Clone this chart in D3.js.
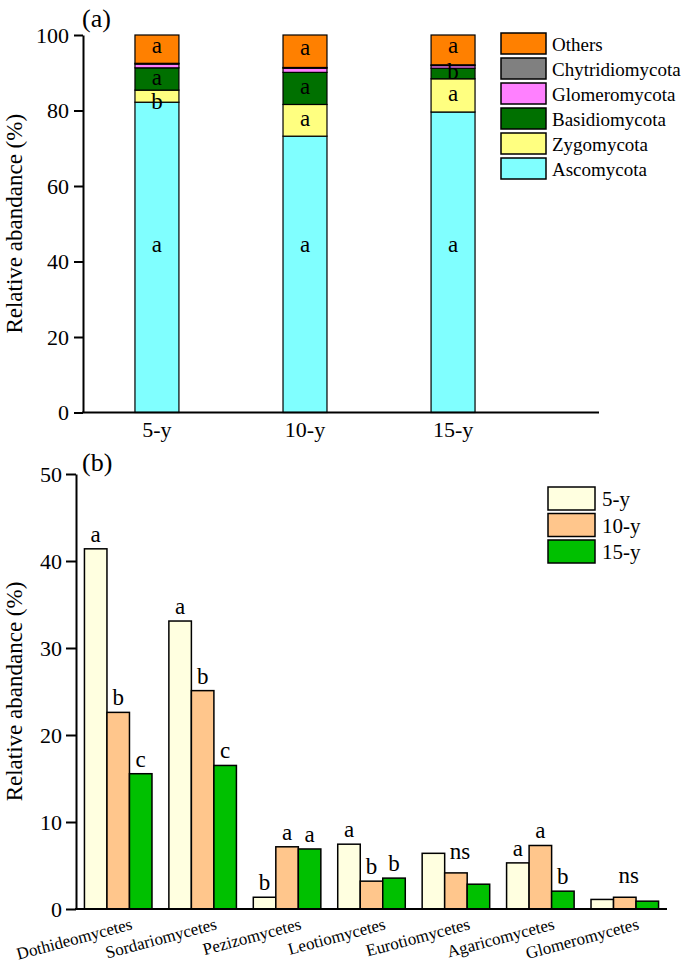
<!DOCTYPE html>
<html>
<head>
<meta charset="utf-8">
<script src="https://cdn.jsdelivr.net/npm/d3@7"></script>
<style>
  body { margin: 0; background: #fff; }
</style>
</head>
<body>
<svg id="chart" width="685" height="967"></svg>
<script>
// ---- panel (a) data: phylum relative abundance (%) ----
const periods = ["5-y", "10-y", "15-y"];
const phyla = ["Ascomycota", "Zygomycota", "Basidiomycota", "Glomeromycota", "Chytridiomycota", "Others"];
const ascomycota = [82.2, 73.2, 79.6];
const zygomycota = [3.2, 8.4, 8.8];
const basidiomycota = [5.9, 8.5, 2.8];
const glomeromycota = [1.0, 1.1, 0.7];
const chytridiomycota = [0.2, 0.2, 0.2];
const others = [7.5, 8.6, 7.9];
const ascoLetters = ["a", "a", "a"];
const zygoLetters = ["b", "a", "a"];
const basidioLetters = ["a", "a", "b"];
const othersLetters = ["a", "a", "a"];
const phylumTicks = [0, 20, 40, 60, 80, 100];

// ---- panel (b) data: class relative abundance (%) ----
const classes = ["Dothideomycetes", "Sordariomycetes", "Pezizomycetes", "Leotiomycetes",
  "Eurotiomycetes", "Agaricomycetes", "Glomeromycetes"];
const years = ["5-y", "10-y", "15-y"];
const class5y = [41.4, 33.1, 1.35, 7.45, 6.4, 5.3, 1.1];
const class10y = [22.6, 25.1, 7.15, 3.2, 4.15, 7.3, 1.35];
const class15y = [15.55, 16.5, 6.9, 3.55, 2.85, 2.05, 0.9];
const letters5y = ["a", "a", "b", "a", "", "a", ""];
const letters10y = ["b", "b", "a", "b", "ns", "a", "ns"];
const letters15y = ["c", "c", "a", "b", "", "b", ""];
const classTicks = [0, 10, 20, 30, 40, 50];

const FONT = '"Liberation Serif", "Times New Roman", serif';
const svg = d3.select("#chart");

function serif(sel, size) {
  return sel.style("font-family", FONT).style("font-size", size).attr("fill", "#000");
}

// ================= panel (a) =================
const phylumColor = d3.scaleOrdinal()
  .domain(phyla)
  .range(["#80ffff", "#ffff80", "#007000", "#ff80ff", "#808080", "#ff8000"]);

const valuesByPhylum = {
  Ascomycota: ascomycota, Zygomycota: zygomycota, Basidiomycota: basidiomycota,
  Glomeromycota: glomeromycota, Chytridiomycota: chytridiomycota, Others: others
};
const lettersByPhylum = {
  Ascomycota: ascoLetters, Zygomycota: zygoLetters, Basidiomycota: basidioLetters, Others: othersLetters
};

const rows = periods.map((p, i) => {
  const r = { period: p };
  phyla.forEach(k => r[k] = valuesByPhylum[k][i]);
  return r;
});
const stacked = d3.stack().keys(phyla)(rows);

const xA = d3.scaleBand().domain(periods).range([83, 527]).paddingInner(0.703).paddingOuter(0.351);
const yA = d3.scaleLinear().domain([0, 100]).range([412.5, 35]);

const gA = svg.append("g");

gA.selectAll("g.layer")
  .data(stacked)
  .join("g")
  .attr("class", "layer")
  .attr("fill", d => phylumColor(d.key))
  .selectAll("rect")
  .data(d => d)
  .join("rect")
  .attr("x", d => xA(d.data.period))
  .attr("y", d => yA(d[1]))
  .attr("width", xA.bandwidth())
  .attr("height", d => yA(d[0]) - yA(d[1]))
  .attr("stroke", "#000")
  .attr("stroke-width", 1.2);

// significance letters inside the stacks
stacked.forEach(layer => {
  const lets = lettersByPhylum[layer.key];
  if (!lets) return;
  layer.forEach((d, i) => {
    let mid = layer.key === "Ascomycota" ? 44 : (d[0] + d[1]) / 2;
    if (layer.key === "Zygomycota" && d[1] - d[0] < 5) mid -= 2;
    if (layer.key === "Others") mid += 0.6;
    serif(gA.append("text"), "23px")
      .attr("x", xA(d.data.period) + xA.bandwidth() / 2)
      .attr("y", yA(mid))
      .attr("dy", "0.25em")
      .attr("text-anchor", "middle")
      .text(lets[i]);
  });
});

// axes
const yAxisA = gA.append("g")
  .attr("transform", "translate(83,0)")
  .call(d3.axisLeft(yA).tickValues(phylumTicks).tickSize(9).tickPadding(5).tickSizeOuter(0));
yAxisA.select(".domain").attr("stroke-width", 2);
yAxisA.selectAll(".tick line").attr("stroke-width", 2);
serif(yAxisA.selectAll("text"), "22px");

gA.append("line")
  .attr("x1", 82).attr("x2", 599)
  .attr("y1", yA(0)).attr("y2", yA(0))
  .attr("stroke", "#000").attr("stroke-width", 2);

const xAxisA = gA.append("g")
  .attr("transform", `translate(0,${yA(0)})`)
  .call(d3.axisBottom(xA).tickSize(0).tickPadding(9));
xAxisA.select(".domain").remove();
serif(xAxisA.selectAll("text"), "22px");

serif(gA.append("text"), "23px")
  .attr("transform", `translate(22,${yA(50)}) rotate(-90)`)
  .attr("text-anchor", "middle")
  .text("Relative abandance (%)");

serif(gA.append("text"), "26px").attr("x", 82).attr("y", 27).text("(a)");

// legend (a), top to bottom
const legendA = gA.append("g").attr("transform", "translate(501,33)");
phyla.slice().reverse().forEach((k, i) => {
  legendA.append("rect")
    .attr("x", 0).attr("y", i * 25)
    .attr("width", 45).attr("height", 21)
    .attr("fill", phylumColor(k))
    .attr("stroke", "#000").attr("stroke-width", 1.5);
  serif(legendA.append("text"), "19px")
    .attr("x", 51).attr("y", i * 25 + 11)
    .attr("dy", "0.35em")
    .text(k);
});

// ================= panel (b) =================
const yearColor = d3.scaleOrdinal().domain(years).range(["#ffffe0", "#ffc68c", "#00c000"]);
const valuesByYear = { "5-y": class5y, "10-y": class10y, "15-y": class15y };
const lettersByYear = { "5-y": letters5y, "10-y": letters10y, "15-y": letters15y };

const xB = d3.scaleBand().domain(classes).range([76, 667]).paddingInner(0.2).paddingOuter(0.1);
const x1 = d3.scaleBand().domain(years).range([0, xB.bandwidth()]);
const yB = d3.scaleLinear().domain([0, 50]).range([909, 474]);

const gB = svg.append("g");

const series = [];
classes.forEach((c, i) => {
  years.forEach(y => {
    series.push({ cls: c, year: y, value: valuesByYear[y][i], letter: lettersByYear[y][i] });
  });
});

gB.selectAll("rect.bar")
  .data(series)
  .join("rect")
  .attr("class", "bar")
  .attr("x", d => xB(d.cls) + x1(d.year))
  .attr("y", d => yB(d.value))
  .attr("width", x1.bandwidth())
  .attr("height", d => yB(0) - yB(d.value))
  .attr("fill", d => yearColor(d.year))
  .attr("stroke", "#000")
  .attr("stroke-width", 1.5);

serif(gB.selectAll("text.sig")
  .data(series.filter(d => d.letter))
  .join("text"), "23px")
  .attr("class", "sig")
  .attr("x", d => xB(d.cls) + x1(d.year) + x1.bandwidth() / 2 + (d.letter === "ns" ? 4 : 0))
  .attr("y", d => yB(d.value) - (d.letter === "ns" ? 14 : 7))
  .attr("text-anchor", "middle")
  .text(d => d.letter);

const yAxisB = gB.append("g")
  .attr("transform", "translate(76,0)")
  .call(d3.axisLeft(yB).tickValues(classTicks).tickSize(10).tickPadding(4).tickSizeOuter(0));
yAxisB.select(".domain").attr("stroke-width", 2);
yAxisB.selectAll(".tick line").attr("stroke-width", 2);
serif(yAxisB.selectAll("text"), "22px");

gB.append("line")
  .attr("x1", 75).attr("x2", 667)
  .attr("y1", yB(0)).attr("y2", yB(0))
  .attr("stroke", "#000").attr("stroke-width", 2);

const xAxisB = gB.append("g")
  .attr("transform", `translate(0,${yB(0)})`)
  .call(d3.axisBottom(xB).tickSize(0).tickPadding(0));
xAxisB.select(".domain").remove();
serif(xAxisB.selectAll("text"), "17px")
  .attr("text-anchor", "end")
  .attr("dy", null)
  .attr("transform", "translate(15,20) rotate(-15)");

serif(gB.append("text"), "23px")
  .attr("transform", `translate(22,${yB(25)}) rotate(-90)`)
  .attr("text-anchor", "middle")
  .text("Relative abandance (%)");

serif(gB.append("text"), "26px").attr("x", 82).attr("y", 471).text("(b)");

const legendB = gB.append("g").attr("transform", "translate(548,487)");
years.forEach((y, i) => {
  legendB.append("rect")
    .attr("x", 0).attr("y", i * 26.5)
    .attr("width", 47).attr("height", 23)
    .attr("fill", yearColor(y))
    .attr("stroke", "#000").attr("stroke-width", 1.5);
  serif(legendB.append("text"), "21px")
    .attr("x", 54).attr("y", i * 26.5 + 12)
    .attr("dy", "0.35em")
    .text(y);
});
</script>
</body>
</html>
